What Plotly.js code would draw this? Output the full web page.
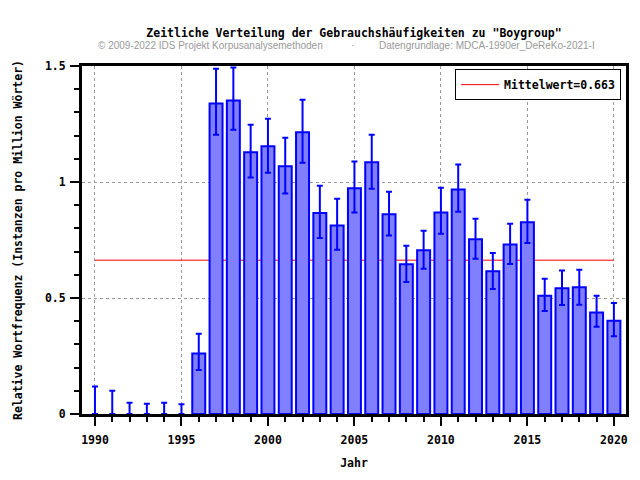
<!DOCTYPE html>
<html>
<head>
<meta charset="utf-8">
<script src="https://cdn.plot.ly/plotly-3.0.1.min.js"></script>
<style>html,body{margin:0;padding:0;background:#fff;}#chart{width:640px;height:480px;}</style>
</head>
<body>
<div id="chart"></div>
<script>
// Data
const years = [1990,1991,1992,1993,1994,1995,1996,1997,1998,1999,2000,2001,2002,2003,2004,2005,2006,2007,2008,2009,2010,2011,2012,2013,2014,2015,2016,2017,2018,2019,2020];
const freq  = [0,0,0,0,0,0,0.261,1.338,1.351,1.128,1.154,1.068,1.214,0.866,0.813,0.973,1.085,0.861,0.645,0.706,0.869,0.968,0.753,0.615,0.731,0.826,0.510,0.542,0.546,0.437,0.402];
const upper = [0.119,0.100,0.049,0.044,0.049,0.042,0.346,1.488,1.493,1.247,1.273,1.191,1.355,0.984,0.928,1.088,1.204,0.958,0.725,0.790,0.975,1.075,0.842,0.694,0.820,0.924,0.583,0.618,0.622,0.510,0.478];
const lower = [0,0,0,0,0,0,0.190,1.204,1.225,1.019,1.040,0.950,1.083,0.759,0.708,0.868,0.971,0.769,0.569,0.626,0.777,0.872,0.669,0.539,0.647,0.737,0.444,0.470,0.471,0.376,0.335];
const meanValue = 0.663;
const meanLabel = "Mittelwert=0.663";
const yTickVals = [0, 0.5, 1, 1.5];
const yTickText = ["0", "0.5", "1", "1.5"];
const xTickVals = [1990, 1995, 2000, 2005, 2010, 2015, 2020];
const xTickText = ["1990", "1995", "2000", "2005", "2010", "2015", "2020"];

const mono = {family: "DejaVu Sans Mono", size: 11.5, color: "#000", weight: "bold"};
const sub = {family: "Liberation Sans", size: 10, color: "#999"};

const errPlus = freq.map((v, i) => upper[i] - v);
const errMinus = freq.map((v, i) => v - lower[i]);
const outline = freq.map(v => (v > 0 ? 2 : 0));

const meanTrace = {
  type: "scatter", mode: "lines",
  x: [years[0], years[years.length - 1]],
  y: [meanValue, meanValue],
  line: {color: "#ff0000", width: 1},
  name: meanLabel, showlegend: true,
  xaxis: "x", yaxis: "y"
};

const barTrace = {
  type: "bar", x: years, y: freq, width: 0.75,
  marker: {color: "#8080ff", line: {color: "#0000ff", width: outline}},
  error_y: {type: "data", symmetric: false, array: errPlus, arrayminus: errMinus,
            color: "#0000ff", thickness: 2, width: 3},
  showlegend: false, xaxis: "x2", yaxis: "y2"
};

const subY = (414 - 46) / 348;

const layout = {
  width: 640, height: 480,
  margin: {l: 82, r: 14, t: 66, b: 66},
  paper_bgcolor: "#fff", plot_bgcolor: "#fff",
  title: {text: "Zeitliche Verteilung der Gebrauchshäufigkeiten zu \"Boygroup\"",
          font: mono, x: 0.5, xref: "paper", xanchor: "center",
          y: 1 - 33/480, yref: "container", yanchor: "middle"},
  xaxis: {
    range: [1989.25, 2020.7], tickvals: xTickVals, ticktext: xTickText,
    ticks: "outside", ticklen: 9, tickwidth: 2, tickcolor: "#000",
    minor: {dtick: 1, tick0: 1990, ticks: "outside", ticklen: 5, tickwidth: 2, tickcolor: "#000", showgrid: false},
    showline: true, linecolor: "#000", linewidth: 3, mirror: true,
    showgrid: true, gridcolor: "#999", griddash: "dot", gridwidth: 1,
    zeroline: false, tickfont: mono, ticklabelstandoff: 4,
    title: {text: "Jahr", font: mono, standoff: 14}
  },
  yaxis: {
    range: [0, 1.5], tickvals: yTickVals, ticktext: yTickText,
    ticks: "outside", ticklen: 9, tickwidth: 2, tickcolor: "#000",
    minor: {dtick: 0.1, tick0: 0, ticks: "outside", ticklen: 5, tickwidth: 2, tickcolor: "#000", showgrid: false},
    showline: true, linecolor: "#000", linewidth: 3, mirror: true,
    showgrid: true, gridcolor: "#999", griddash: "dot", gridwidth: 1,
    zeroline: false, tickfont: mono, ticklabelstandoff: 2,
    title: {text: "Relative Wortfrequenz (Instanzen pro Million Wörter)", font: mono, standoff: 20}
  },
  xaxis2: {overlaying: "x", matches: "x", visible: false},
  yaxis2: {overlaying: "y", matches: "y", visible: false},
  legend: {x: 0.991, xanchor: "right", y: 0.991, yanchor: "top",
           bgcolor: "#fff", bordercolor: "#000", borderwidth: 1, font: mono,
           itemwidth: 38},
  annotations: [
    {text: "© 2009-2022 IDS Projekt Korpusanalysemethoden", xref: "paper", yref: "paper",
     x: (96-82)/544, y: subY, xanchor: "left", yanchor: "middle", showarrow: false, font: sub},
    {text: "·", xref: "paper", yref: "paper",
     x: (352-82)/544, y: subY, xanchor: "center", yanchor: "middle", showarrow: false, font: sub},
    {text: "Datengrundlage: MDCA-1990er_DeReKo-2021-I", xref: "paper", yref: "paper",
     x: (377-82)/544, y: subY, xanchor: "left", yanchor: "middle", showarrow: false, font: sub}
  ]
};

Plotly.newPlot("chart", [meanTrace, barTrace], layout, {displayModeBar: false, staticPlot: true});
</script>
</body>
</html>
